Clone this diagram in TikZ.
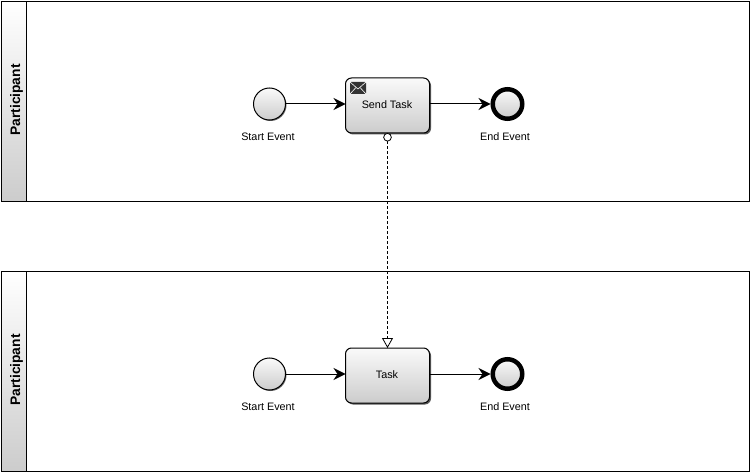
\documentclass[tikz,border=0pt]{standalone}
\usepackage{fontspec}
\setmainfont{Liberation Sans}
\usetikzlibrary{arrows.meta,shadows}
\definecolor{iconDark}{HTML}{333333}
\tikzset{
	pool/.style={draw=black, line width=1pt, minimum width=748pt, minimum height=200pt, outer sep=0pt, inner sep=0pt},
	poolhead/.style={draw=black, line width=1pt, minimum width=25pt, minimum height=200pt, outer sep=0pt, inner sep=0pt, top color=white, bottom color=black!20},
	poolname/.style={rotate=90, font=\bfseries\fontsize{13.8}{16}\selectfont, inner sep=0pt},
	task/.style={draw=black, line width=1pt, rounded corners=6pt, minimum width=84pt, minimum height=55pt, outer sep=0pt, inner sep=0pt, top color=black!2, bottom color=black!20, drop shadow={shadow xshift=1.5pt, shadow yshift=-1.5pt, fill=black!65, opacity=1}},
	startevent/.style={circle, draw=black, line width=1pt, minimum size=32pt, outer sep=0pt, inner sep=0pt, top color=black!2, bottom color=black!20, drop shadow={shadow xshift=1pt, shadow yshift=-1pt, fill=black!60, opacity=1}},
	endevent/.style={circle, draw=black, line width=4.5pt, minimum size=29.5pt, outer sep=2.25pt, inner sep=0pt, top color=black!2, bottom color=black!20},
	caption/.style={font=\fontsize{10.8}{13}\selectfont, inner sep=0pt},
	flow/.style={line width=1pt, -{Stealth[length=12pt, width=12pt, inset=4pt]}},
	msgflow/.style={line width=.7pt, dash pattern=on 3pt off 2pt, {Circle[open, fill=white, length=8.5pt, width=8.5pt, line width=.8pt]}-{Triangle[open, fill=white, length=10pt, width=11pt, line width=.8pt]}}
}
\begin{document}
\begin{tikzpicture}[x=1pt, y=-1pt]
	\useasboundingbox (0, 0) rectangle (750, 473);
	\fill[white] (0, 0) rectangle (750, 473);

	%%%%% upper pool
	\node[pool] (poolA) at (375, 101.5) {};
	\node[poolhead] (headA) at (13.5, 101.5) {};
	\node[poolname] (nameA) at (16.5, 100) {Participant};

	\node[startevent] (startA) at (269.5, 104) {};
	\node[task] (sendtask) at (387.5, 105.5) {};
	\node[caption] (sendtasktext) at (387, 104.5) {Send Task};
	\node[endevent] (endA) at (507.5, 104) {};
	\node[caption] (startAtext) at (268, 136.5) {Start Event};
	\node[caption] (endAtext) at (505, 136.5) {End Event};
	\coordinate (sendin) at (sendtask.west |- startA);
	\coordinate (sendout) at (sendtask.east |- endA);

	% envelope
	\fill[iconDark, rounded corners=1pt] (350, 82) rectangle (366, 94);
	\draw[white, line width=.6pt] (350, 82) -- (358, 89) -- (366, 82);
	\draw[white, line width=.6pt] (350, 94) -- (356, 87.5);
	\draw[white, line width=.6pt] (366, 94) -- (360, 87.5);

	%%%%% lower pool
	\node[pool] (poolB) at (375, 371.5) {};
	\node[poolhead] (headB) at (13.5, 371.5) {};
	\node[poolname] (nameB) at (16.5, 370) {Participant};

	\node[startevent] (startB) at (269.5, 374) {};
	\node[task] (plaintask) at (387.5, 375.5) {};
	\node[caption] (plaintasktext) at (387, 374.5) {Task};
	\node[endevent] (endB) at (507.5, 374) {};
	\node[caption] (startBtext) at (268, 406.5) {Start Event};
	\node[caption] (endBtext) at (505, 406.5) {End Event};
	\coordinate (plainin) at (plaintask.west |- startB);
	\coordinate (plainout) at (plaintask.east |- endB);

	%%%%% flows
	\draw[flow] (startA) -- (sendin);
	\draw[flow] (sendout) -- (endA);
	\draw[flow] (startB) -- (plainin);
	\draw[flow] (plainout) -- (endB);
	\draw[msgflow] (sendtask.south) -- (plaintask.north);
\end{tikzpicture}
\end{document}
